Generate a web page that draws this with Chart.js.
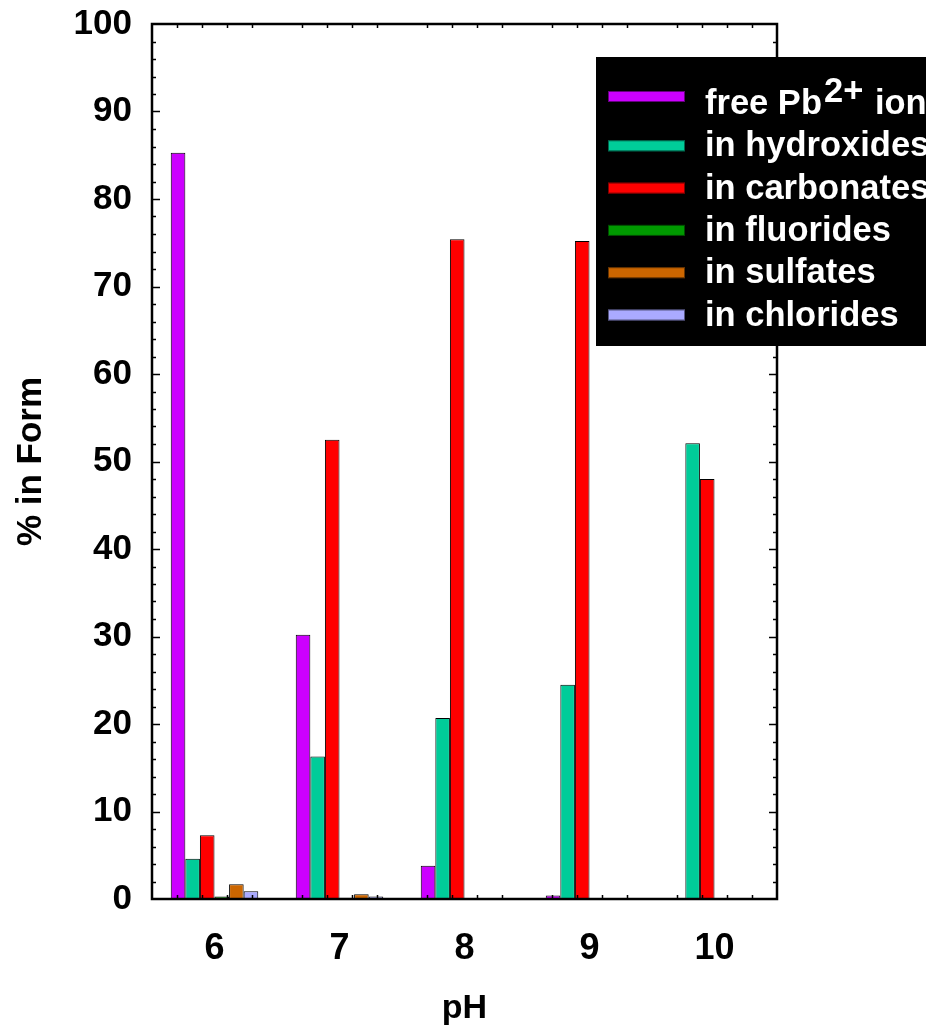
<!DOCTYPE html>
<html>
<head>
<meta charset="utf-8">
<script src="https://cdn.jsdelivr.net/npm/chart.js@4/dist/chart.umd.min.js"></script>
<style>
  html, body { margin: 0; padding: 0; background: #fff; }
</style>
</head>
<body>
<canvas id="leadChart" width="926" height="1026"></canvas>
<script>
// lead speciation vs pH, % of total Pb in each form
const phLevels = ['6', '7', '8', '9', '10'];
const seriesNames = ['free Pb^{2+} ion', 'in hydroxides', 'in carbonates', 'in fluorides', 'in sulfates', 'in chlorides'];
const seriesColors = ['#cc00ff', '#00cc99', '#ff0000', '#009900', '#cc6600', '#aaaaff'];

const freePb     = [85.3, 30.2, 3.8, 0.4, 0];
const hydroxides = [4.6, 16.3, 20.7, 24.5, 52.1];
const carbonates = [7.3, 52.5, 75.4, 75.2, 48.0];
const fluorides  = [0.3, 0.15, 0, 0, 0];
const sulfates   = [1.7, 0.55, 0, 0, 0];
const chlorides  = [0.9, 0.3, 0, 0, 0];

const yTickValues = [0, 10, 20, 30, 40, 50, 60, 70, 80, 90, 100];

const FONT = '"Liberation Sans", Arial, sans-serif';

const seriesData = [freePb, hydroxides, carbonates, fluorides, sulfates, chlorides];

// frame with inward minor ticks + the black legend box
const framePlugin = {
  id: 'frameAndLegend',
  afterDraw(chart) {
    const ctx = chart.ctx;
    const area = chart.chartArea;
    const xs = chart.scales.x;
    const ys = chart.scales.y;
    ctx.save();
    ctx.strokeStyle = '#000';

    // y ticks, every 2 %, longer on the tens
    ctx.lineWidth = 1.5;
    ctx.beginPath();
    for (let v = 2; v < 100; v += 2) {
      const py = Math.round(ys.getPixelForValue(v)) + 0.5;
      const len = v % 10 === 0 ? 8 : 4;
      ctx.moveTo(area.left, py); ctx.lineTo(area.left + len, py);
      ctx.moveTo(area.right, py); ctx.lineTo(area.right - len, py);
    }
    // x ticks, every 0.2 pH; whole pH values get an outward tick below
    for (let k = 1; k < 25; k++) {
      const ph = 5.5 + k * 0.2;
      const px = Math.round(xs.getPixelForValue(ph - 6)) + 0.5;
      if (k % 5 === 0) continue;
      if (Math.abs(ph - Math.round(ph)) < 1e-6) {
        ctx.moveTo(px, area.bottom); ctx.lineTo(px, area.bottom + 8);
      } else {
        ctx.moveTo(px, area.bottom); ctx.lineTo(px, area.bottom - 4);
        ctx.moveTo(px, area.top); ctx.lineTo(px, area.top + 4);
      }
    }
    ctx.stroke();

    ctx.lineWidth = 2.5;
    ctx.strokeRect(area.left, area.top, area.right - area.left, area.bottom - area.top);

    // legend
    ctx.fillStyle = '#000';
    ctx.fillRect(596, 57, 330, 289);
    ctx.textBaseline = 'alphabetic';
    ctx.textAlign = 'left';
    chart.data.datasets.forEach((ds, i) => {
      const base = 114 + i * 42.3;
      const m = /^(.*)\^\{(.*)\}(.*)$/.exec(ds.label);
      // the superscripted entry sits its swatch a little higher
      const sy = base - 10.5 - (m ? 7 : 0);
      ctx.fillStyle = ds.backgroundColor;
      ctx.fillRect(608, sy - 5.5, 77, 11);
      ctx.lineWidth = 1;
      ctx.strokeStyle = 'rgba(0,0,0,0.5)';
      ctx.strokeRect(608.5, sy - 5, 76, 10);
      ctx.fillStyle = '#fff';
      ctx.font = 'bold 34.5px ' + FONT;
      if (m) {
        let x = 705;
        ctx.fillText(m[1], x, base);
        x += ctx.measureText(m[1]).width + 2;
        ctx.fillText(m[2], x, base - 12);
        x += ctx.measureText(m[2]).width + 2;
        ctx.fillText(m[3], x, base);
      } else {
        ctx.fillText(ds.label, 705, base);
      }
    });
    ctx.restore();
  }
};

new Chart(document.getElementById('leadChart'), {
  type: 'bar',
  data: {
    labels: phLevels,
    datasets: seriesData.map((vals, i) => ({
      label: seriesNames[i],
      data: vals,
      backgroundColor: seriesColors[i],
      borderColor: '#000',
      borderWidth: 1,
      borderSkipped: 'start',
      barPercentage: 1.0,
      categoryPercentage: 0.7
    }))
  },
  options: {
    responsive: false,
    animation: false,
    devicePixelRatio: 1,
    layout: { padding: { top: 24, right: 149, left: 0, bottom: 0 } },
    plugins: {
      legend: { display: false },
      tooltip: { enabled: false }
    },
    scales: {
      x: {
        offset: true,
        grid: { display: false, drawTicks: false },
        border: { display: false },
        ticks: {
          color: '#000',
          padding: 28,
          font: { family: FONT, size: 36, weight: 'bold' }
        },
        title: {
          display: true,
          text: 'pH',
          color: '#000',
          padding: { top: 0, bottom: 0 },
          font: { family: FONT, size: 34, weight: 'bold', lineHeight: 1 }
        },
        afterFit(scale) {
          scale.height = 127;
          scale.paddingLeft = 0;
          scale.paddingRight = 0;
        }
      },
      y: {
        min: 0,
        max: 100,
        grid: { display: false, drawTicks: false },
        border: { display: false },
        afterBuildTicks(scale) { scale.ticks = yTickValues.map(v => ({ value: v })); },
        ticks: {
          color: '#000',
          padding: 20,
          font: { family: FONT, size: 35, weight: 'bold' }
        },
        title: {
          display: true,
          text: '% in Form',
          color: '#000',
          padding: { top: 14, bottom: 0 },
          font: { family: FONT, size: 35, weight: 'bold', lineHeight: 1 }
        },
        afterFit(scale) {
          scale.width = 152;
          scale.paddingTop = 0;
          scale.paddingBottom = 0;
        }
      }
    }
  },
  plugins: [framePlugin]
});
</script>
</body>
</html>
